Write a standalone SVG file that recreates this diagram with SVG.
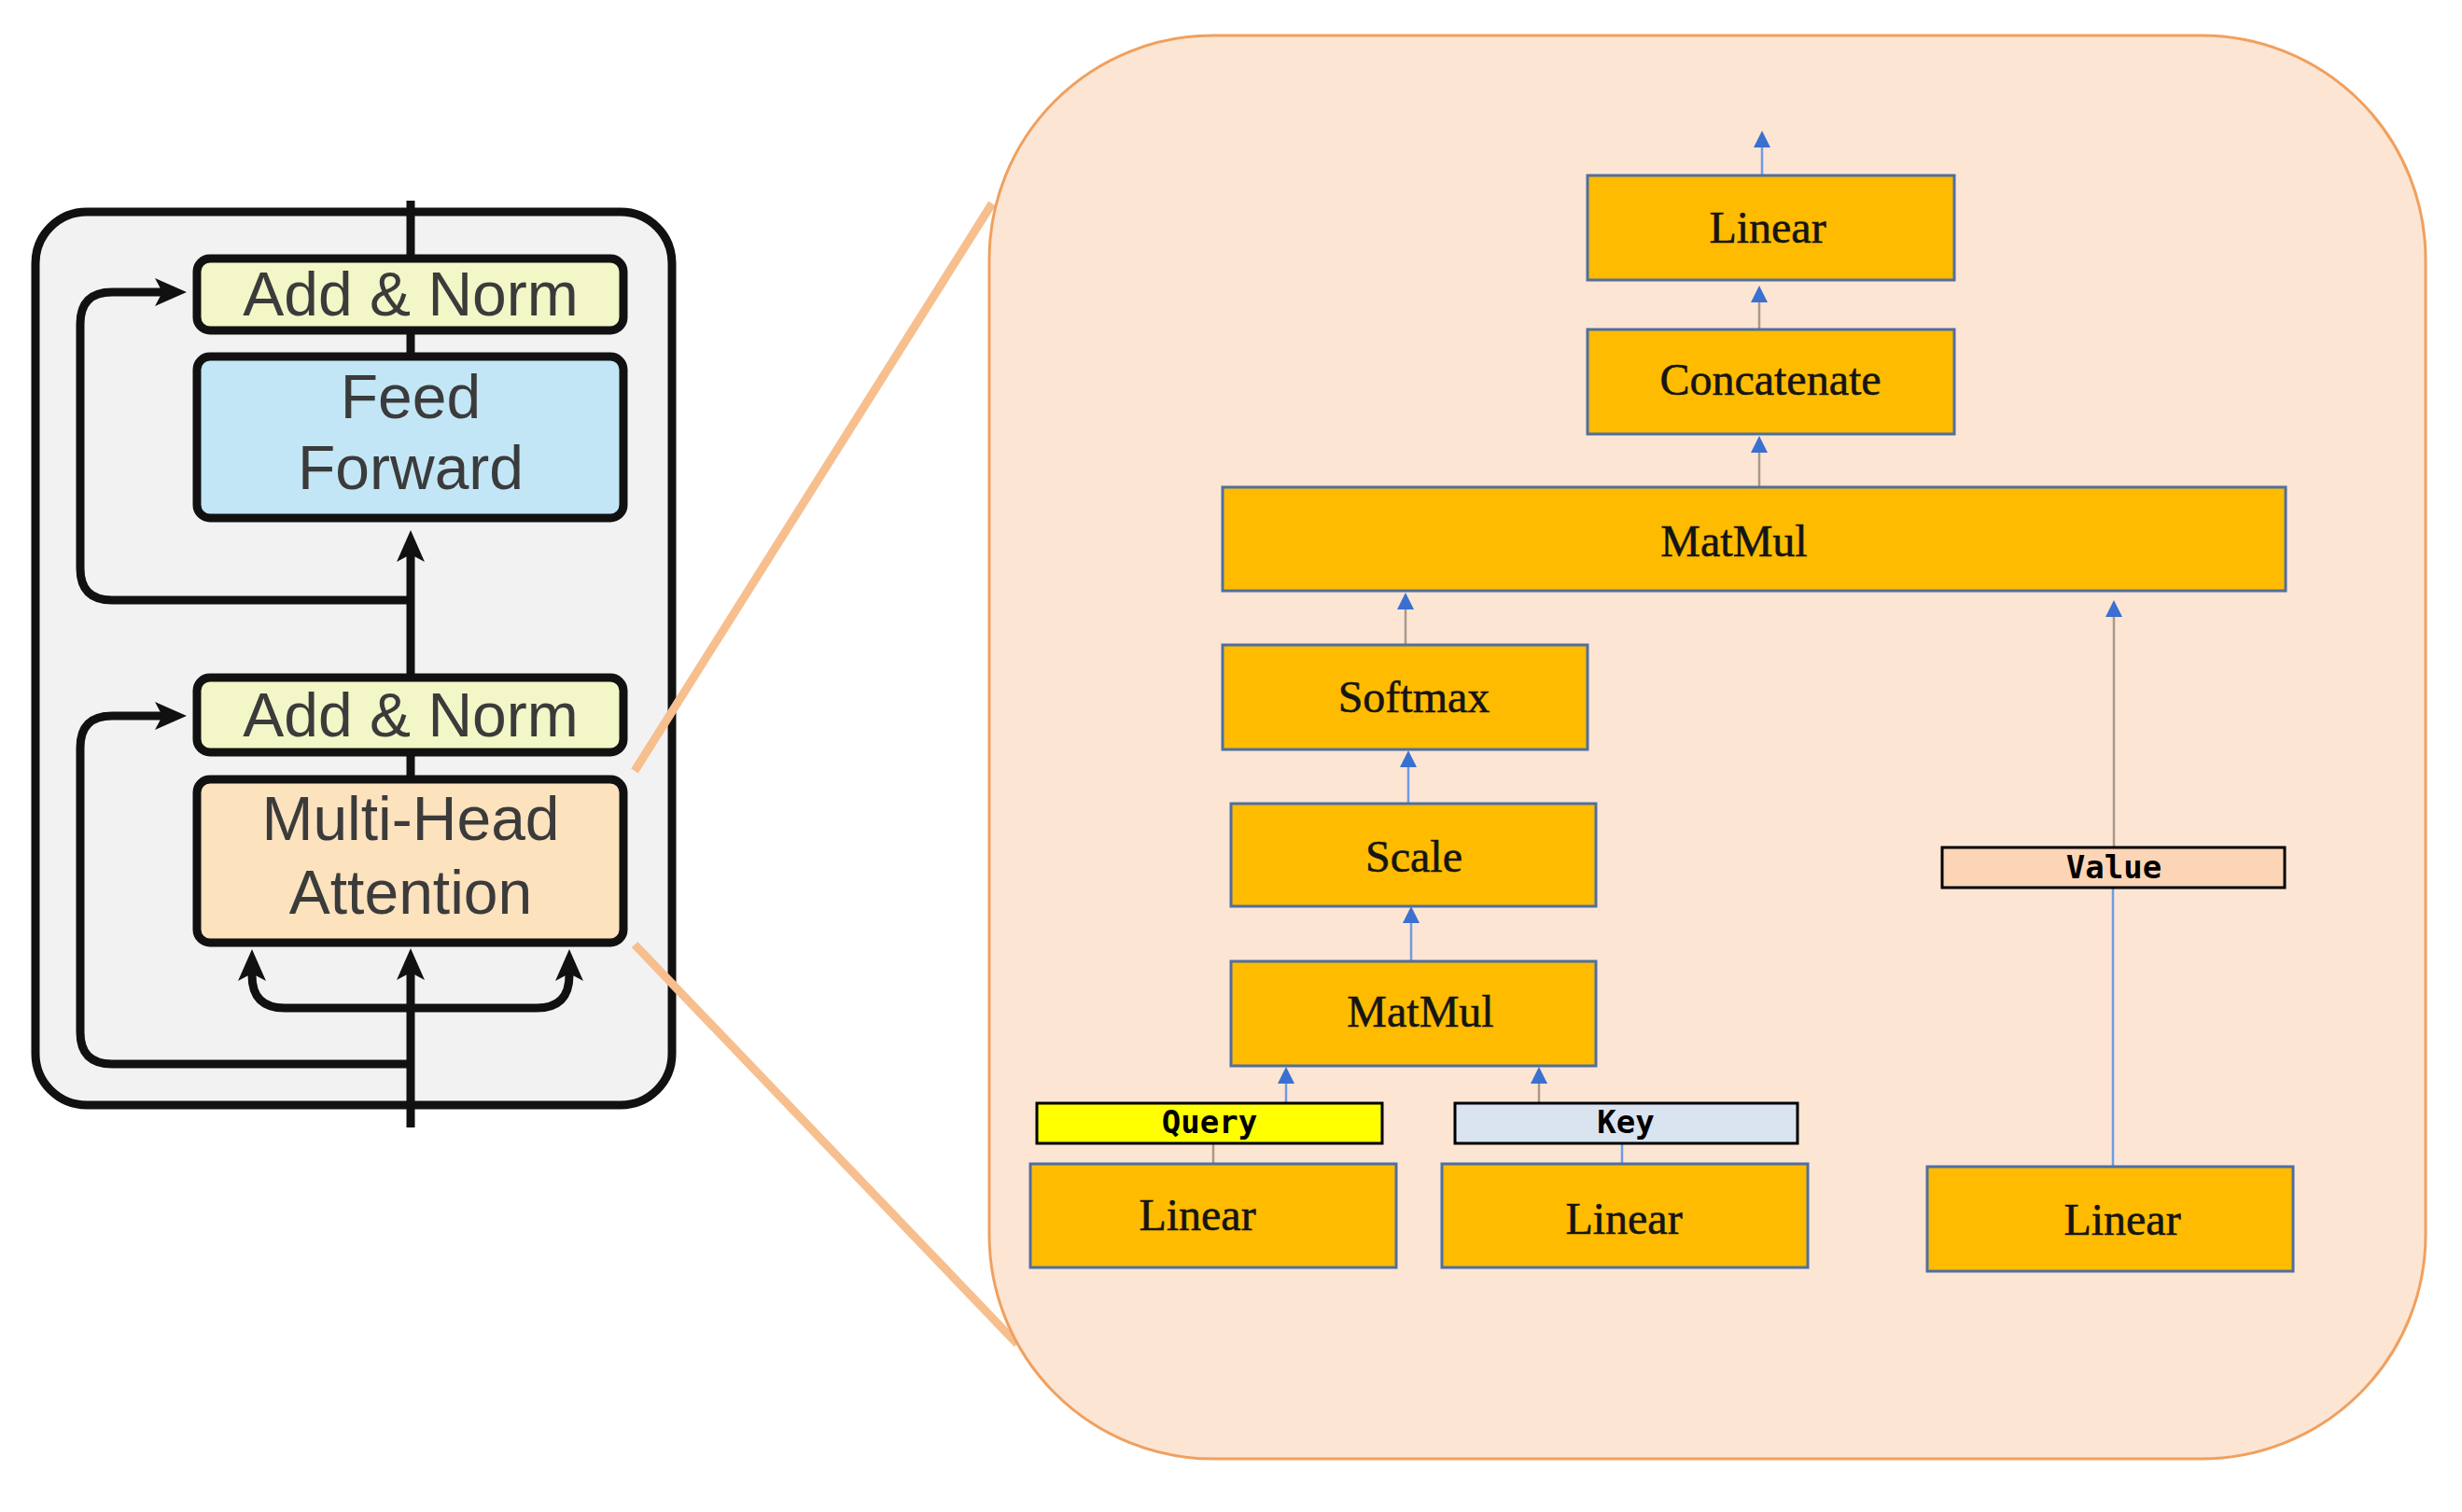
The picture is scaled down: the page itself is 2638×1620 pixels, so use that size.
<svg xmlns="http://www.w3.org/2000/svg" width="2638" height="1620" viewBox="0 0 2638 1620">
<defs>
<style>
.lbox{stroke:#111;stroke-width:9}
.ltxt{font-family:"Liberation Sans",Arial,sans-serif;font-size:66px;fill:#3b3b3b;text-anchor:middle}
.bl{stroke:#111;stroke-width:9;fill:none}
.ob{fill:#FFBB00;stroke:#4F6FA0;stroke-width:3}
.otxt{font-family:"Liberation Serif","Times New Roman",serif;font-size:48px;fill:#151515;stroke:#151515;stroke-width:0.6;text-anchor:middle}
.lab{stroke:#000;stroke-width:3}
.labt{font-family:"DejaVu Sans Mono","Liberation Mono",monospace;font-size:34px;font-weight:bold;fill:#000;text-anchor:middle}
.cb{stroke:#6F9BE6;stroke-width:2.5;fill:none}
.cg{stroke:#A8998C;stroke-width:2.5;fill:none}
.zoom{stroke:#F7BF8E;stroke-width:9;fill:none}
</style>
<marker id="ab" markerUnits="userSpaceOnUse" markerWidth="34" markerHeight="30" refX="8" refY="15" orient="auto">
<path d="M0,0 L34,15 L0,30 L8,15 Z" fill="#111"/>
</marker>
<marker id="au" markerUnits="userSpaceOnUse" markerWidth="18" markerHeight="18" refX="0" refY="9" orient="auto">
<path d="M0,0 L18,9 L0,18 Z" fill="#3A70D0"/>
</marker>
</defs>
<rect width="2638" height="1620" fill="#fff"/>

<!-- left encoder block -->
<g id="encoder-block">
<rect x="38" y="227" width="682" height="957" rx="55" fill="#F2F2F2" stroke="#111" stroke-width="9"/>
</g>

<!-- zoom lines -->
<g id="zoom-lines">
<path class="zoom" d="M680 826 L1063 218"/>
<path class="zoom" d="M680 1012 L1090 1440"/>
</g>

<!-- right panel -->
<g id="attention-panel">
<rect x="1060" y="38" width="1539" height="1525" rx="240" fill="#FDE5D4" stroke="#F0A05E" stroke-width="3"/>
</g>

<g id="connectors">
<!-- left -->
<path class="bl" d="M440 215 V 382"/>
<path class="bl" d="M440 835 V 594" marker-end="url(#ab)"/>
<path class="bl" d="M440 1208 V 1042" marker-end="url(#ab)"/>
<path class="bl" d="M440 643 H 120 Q 86 643 86 609 V 347 Q 86 313 120 313 H 174" marker-end="url(#ab)"/>
<path class="bl" d="M440 1140 H 120 Q 86 1140 86 1106 V 801 Q 86 767 120 767 H 174" marker-end="url(#ab)"/>
<path class="bl" d="M440 1080 H 305 Q 270 1080 270 1045 V 1043" marker-end="url(#ab)"/>
<path class="bl" d="M440 1080 H 575 Q 610 1080 610 1045 V 1043" marker-end="url(#ab)"/>
<!-- right -->
<path class="cb" d="M1888 188 V 158" marker-end="url(#au)"/>
<path class="cg" d="M1885 353 V 324" marker-end="url(#au)"/>
<path class="cg" d="M1885 522 V 485" marker-end="url(#au)"/>
<path class="cg" d="M1506 691 V 653" marker-end="url(#au)"/>
<path class="cg" d="M2265 908 V 661" marker-end="url(#au)"/>
<path class="cb" d="M2264 1250 V 951"/>
<path class="cb" d="M1509 861 V 822" marker-end="url(#au)"/>
<path class="cb" d="M1512 1030 V 989" marker-end="url(#au)"/>
<path class="cb" d="M1378 1182 V 1161" marker-end="url(#au)"/>
<path class="cg" d="M1649 1182 V 1161" marker-end="url(#au)"/>
<path class="cg" d="M1300 1247 V 1225"/>
<path class="cb" d="M1738 1247 V 1225"/>
</g>

<!-- left nodes -->
<g id="add-norm-top">
<rect class="lbox" x="211" y="277" width="457" height="77" rx="14" fill="#F3F6C6"/>
<text class="ltxt" x="440" y="338">Add &amp; Norm</text>
</g>
<g id="feed-forward">
<rect class="lbox" x="211" y="382" width="457" height="173" rx="14" fill="#C2E6F6"/>
<text class="ltxt" x="440" y="448">Feed</text>
<text class="ltxt" x="440" y="524">Forward</text>
</g>
<g id="add-norm-bottom">
<rect class="lbox" x="211" y="726" width="457" height="80" rx="14" fill="#F3F6C6"/>
<text class="ltxt" x="440" y="789">Add &amp; Norm</text>
</g>
<g id="multi-head-attention">
<rect class="lbox" x="211" y="835" width="457" height="175" rx="14" fill="#FDE2BE"/>
<text class="ltxt" x="440" y="900">Multi-Head</text>
<text class="ltxt" x="440" y="979">Attention</text>
</g>

<!-- right nodes -->
<g id="linear-out">
<rect class="ob" x="1701" y="188" width="393" height="112"/>
<text class="otxt" x="1894" y="260">Linear</text>
</g>
<g id="concatenate">
<rect class="ob" x="1701" y="353" width="393" height="112"/>
<text class="otxt" x="1897" y="423">Concatenate</text>
</g>
<g id="matmul-top">
<rect class="ob" x="1310" y="522" width="1139" height="111"/>
<text class="otxt" x="1858" y="596">MatMul</text>
</g>
<g id="softmax">
<rect class="ob" x="1310" y="691" width="391" height="112"/>
<text class="otxt" x="1515" y="763">Softmax</text>
</g>
<g id="scale">
<rect class="ob" x="1319" y="861" width="391" height="110"/>
<text class="otxt" x="1515" y="934">Scale</text>
</g>
<g id="matmul-bottom">
<rect class="ob" x="1319" y="1030" width="391" height="112"/>
<text class="otxt" x="1522" y="1100">MatMul</text>
</g>
<g id="query">
<rect class="lab" x="1111" y="1182" width="370" height="43" fill="#FFFF00"/>
<text class="labt" x="1296" y="1214">Query</text>
</g>
<g id="key">
<rect class="lab" x="1559" y="1182" width="367" height="43" fill="#DAE3F0"/>
<text class="labt" x="1742" y="1214">Key</text>
</g>
<g id="value">
<rect class="lab" x="2081" y="908" width="367" height="43" fill="#FBD5B5"/>
<text class="labt" x="2265" y="941">Value</text>
</g>
<g id="linear-q">
<rect class="ob" x="1104" y="1247" width="392" height="111"/>
<text class="otxt" x="1283" y="1318">Linear</text>
</g>
<g id="linear-k">
<rect class="ob" x="1545" y="1247" width="392" height="111"/>
<text class="otxt" x="1740" y="1322">Linear</text>
</g>
<g id="linear-v">
<rect class="ob" x="2065" y="1250" width="392" height="112"/>
<text class="otxt" x="2274" y="1323">Linear</text>
</g>
</svg>
